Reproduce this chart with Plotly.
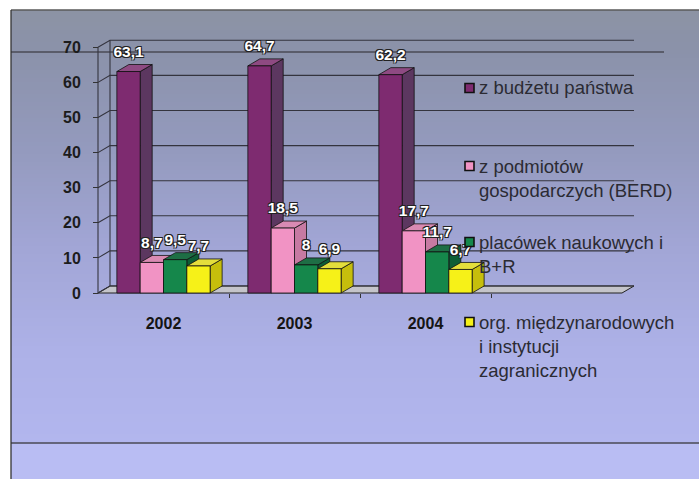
import plotly.graph_objects as go

# ---------------- data ----------------
years = ["2002", "2003", "2004"]
series_names = [
    "z budżetu państwa",
    "z podmiotów<br>gospodarczych (BERD)",
    "placówek naukowych i<br>B+R",
    "org. międzynarodowych<br>i instytucji<br>zagranicznych",
]
budzet = [63.1, 64.7, 62.2]
berd = [8.7, 18.5, 17.7]
placowki = [9.5, 8.0, 11.7]
zagraniczne = [7.7, 6.9, 6.7]
y_tick_values = [0, 10, 20, 30, 40, 50, 60, 70]

series = [budzet, berd, placowki, zagraniczne]

# ---------------- style ----------------
W_FIG, H_FIG = 699, 479
FONT = "Liberation Sans, Arial, sans-serif"
front_colors = ["#7E2B70", "#F193C4", "#15874B", "#F6F118"]
side_colors = ["#5C3760", "#C77AA2", "#0E5E36", "#C6BE0C"]
top_colors = ["#8E4A82", "#D98AB3", "#1E6E45", "#E4DE3C"]
legend_line1_px = [88, 166, 242, 322]
LEG_FONT = 18.5
LEG_LH = LEG_FONT * 1.3

BAR_W = 0.178
DX = 0.0916
DY = 2.0
X_LO, X_HI = -0.5, 3.5
LABEL_DY = 5.3

PX_X0 = 98      # pixel column of x = -0.5
PX_PER_X = 131
PX_Y0 = 293     # pixel row of y = 0
PX_PER_Y = 3.51
x_range = [X_LO - PX_X0 / PX_PER_X, X_LO + (W_FIG - PX_X0) / PX_PER_X]
y_range = [-(H_FIG - PX_Y0) / PX_PER_Y, PX_Y0 / PX_PER_Y]


def px(xp):
    return xp / W_FIG


def py(yp):
    return 1 - yp / H_FIG


fig = go.Figure()

# ---------------- background gradient ----------------
stops = [
    (10, (140, 147, 164)),
    (52, (139, 146, 170)),
    (150, (148, 154, 190)),
    (250, (162, 166, 214)),
    (350, (173, 177, 231)),
    (443, (178, 182, 238)),
]


def interp(y):
    for (y0, c0), (y1, c1) in zip(stops[:-1], stops[1:]):
        if y0 <= y <= y1:
            t = (y - y0) / (y1 - y0)
            return tuple(round(a + (b - a) * t) for a, b in zip(c0, c1))
    return stops[-1][1]


shapes = []
step = 4
yp = 10
while yp < 443:
    c = interp(yp + step / 2)
    shapes.append(dict(type="rect", xref="paper", yref="paper", layer="below",
                       x0=px(11), x1=1, y0=py(min(yp + step, 443)), y1=py(yp),
                       line=dict(width=0), fillcolor="rgb(%d,%d,%d)" % c))
    yp += step
shapes.append(dict(type="rect", xref="paper", yref="paper", layer="below",
                   x0=px(11), x1=1, y0=0, y1=py(443),
                   line=dict(width=0), fillcolor="rgb(185,189,243)"))
# frame lines
for (x0, y0, x1, y1, col) in [
    (11, 10, 699, 10, "#5a5a5a"),
    (11, 52, 664, 52, "#4a4a55"),
    (11, 443, 699, 443, "#4a4a55"),
    (11, 10, 11, 479, "#333333"),
]:
    shapes.append(dict(type="line", xref="paper", yref="paper", layer="below",
                       x0=px(x0), y0=py(y0), x1=px(x1), y1=py(y1),
                       line=dict(color=col, width=1.3)))

# ---------------- floor and walls ----------------
fig.add_trace(go.Scatter(
    x=[X_LO, X_HI, X_HI + DX, X_LO + DX, X_LO],
    y=[0, 0, DY, DY, 0],
    mode="lines", fill="toself", fillcolor="#C4C4CA",
    line=dict(color="#222222", width=1), hoverinfo="skip", showlegend=False))

gx, gy = [], []
for v in y_tick_values:
    gx += [X_LO, X_LO + DX, X_HI + DX, None]
    gy += [v, v + DY, v + DY, None]
gx += [X_LO, X_LO, None, X_LO + DX, X_LO + DX, None]
gy += [0, y_tick_values[-1], None, DY, y_tick_values[-1] + DY, None]
fig.add_trace(go.Scatter(x=gx, y=gy, mode="lines",
                         line=dict(color="#34343e", width=1.1),
                         hoverinfo="skip", showlegend=False))

# ---------------- 3D bars ----------------
n_series = len(series)
for i, vals in enumerate(series):
    fx, fy, sx, sy, tx, ty = [], [], [], [], [], []
    for g, v in enumerate(vals):
        xl = g - n_series / 2 * BAR_W + i * BAR_W
        xr = xl + BAR_W
        fx += [xl, xr, xr, xl, xl, None]
        fy += [0, 0, v, v, 0, None]
        sx += [xr, xr + DX, xr + DX, xr, xr, None]
        sy += [0, DY, v + DY, v, 0, None]
        tx += [xl, xr, xr + DX, xl + DX, xl, None]
        ty += [v, v, v + DY, v + DY, v, None]
    for (xx, yy, col) in [(sx, sy, side_colors[i]), (tx, ty, top_colors[i]),
                          (fx, fy, front_colors[i])]:
        fig.add_trace(go.Scatter(x=xx, y=yy, mode="lines", fill="toself",
                                 fillcolor=col,
                                 line=dict(color="#111111", width=0.8),
                                 hoverinfo="skip", showlegend=False))

# ---------------- value labels ----------------
for i, vals in enumerate(series):
    lx = [g - n_series / 2 * BAR_W + (i + 0.5) * BAR_W for g in range(len(vals))]
    ly = [v + LABEL_DY for v in vals]
    txt = [("%g" % v).replace(".", ",") for v in vals]
    fig.add_trace(go.Scatter(
        x=lx, y=ly, text=txt, mode="text", textposition="middle center",
        textfont=dict(family=FONT, size=15.5, color="white", weight="bold",
                      shadow="1px 1px 0 #222, -1px -1px 0 #222, 1px -1px 0 #222, -1px 1px 0 #222"),
        cliponaxis=False, hoverinfo="skip", showlegend=False))

# ---------------- legend (drawn manually) ----------------
annotations = []
for i, name in enumerate(series_names):
    cy = legend_line1_px[i]
    shapes.append(dict(type="rect", xref="paper", yref="paper", layer="above",
                       x0=px(465), x1=px(474), y0=py(cy + 4.5), y1=py(cy - 4.5),
                       fillcolor=front_colors[i], line=dict(color="#111111", width=1.6)))
    n_lines = name.count("<br>") + 1
    center = cy + (n_lines - 1) * LEG_LH / 2
    annotations.append(dict(xref="paper", yref="paper", x=px(478), y=py(center),
                            xanchor="left", yanchor="middle", align="left",
                            text=name, showarrow=False, borderpad=0,
                            font=dict(family=FONT, size=LEG_FONT, color="#2b2b33")))

fig.update_layout(
    width=W_FIG, height=H_FIG,
    margin=dict(l=0, r=0, t=0, b=0, pad=0),
    paper_bgcolor="white", plot_bgcolor="rgba(0,0,0,0)",
    shapes=shapes, annotations=annotations, showlegend=False,
    xaxis=dict(range=x_range, anchor="free", position=py(PX_Y0),
               tickmode="array", tickvals=list(range(len(years))), ticktext=years,
               ticks="", showgrid=False, zeroline=False, showline=False,
               ticklabelstandoff=19,
               tickfont=dict(family=FONT, size=16, color="#151515", weight="bold"),
               minor=dict(tickmode="array", tickvals=[0.5, 1.5, 2.5],
                          ticks="outside", ticklen=4, tickcolor="#333333",
                          showgrid=False),
               fixedrange=True),
    yaxis=dict(range=y_range, anchor="free", position=px(PX_X0),
               tickmode="array", tickvals=y_tick_values,
               ticks="outside", ticklen=5, tickcolor="#333333",
               showgrid=False, zeroline=False, showline=False,
               ticklabelstandoff=9,
               tickfont=dict(family=FONT, size=16, color="#1c1c1c", weight="bold"),
               fixedrange=True),
)

fig.write_html("out.html", include_plotlyjs=True, full_html=True,
               config={"displayModeBar": False},
               post_script="document.body.style.margin='0';")
